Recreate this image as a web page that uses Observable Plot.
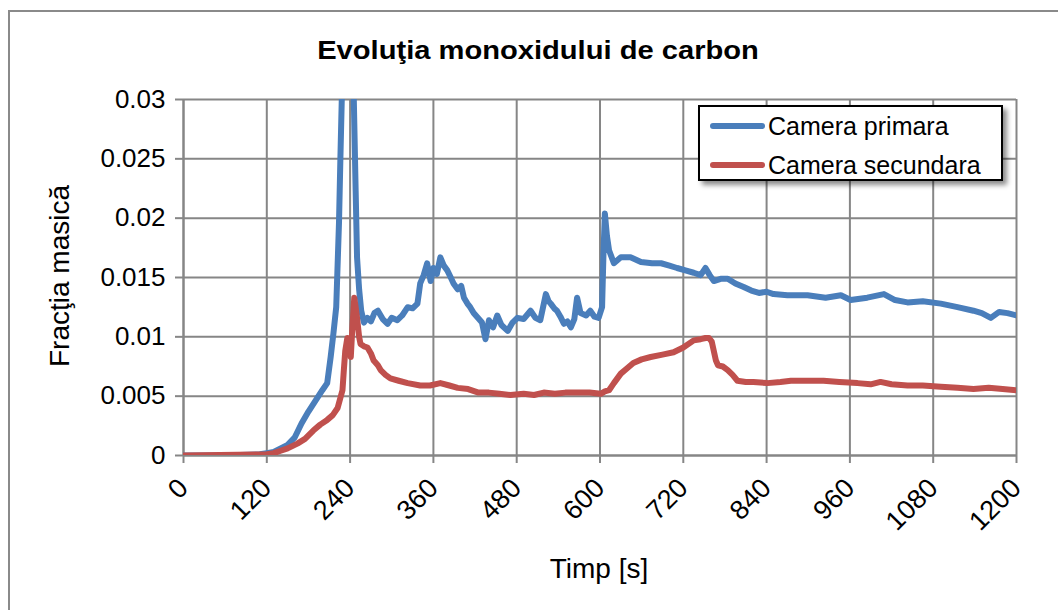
<!DOCTYPE html>
<html>
<head>
<meta charset="utf-8">
<script src="https://cdn.jsdelivr.net/npm/d3@7"></script>
<script src="https://cdn.jsdelivr.net/npm/@observablehq/plot@0.6"></script>
<style>
  html, body { margin: 0; padding: 0; background: #fff; }
  #wrap { position: relative; width: 1058px; height: 610px; overflow: hidden; font-family: "Liberation Sans", Arial, sans-serif; color: #000; }
  #frame { position: absolute; left: 8px; top: 10px; width: 1100px; height: 700px; border-left: 2px solid #8a8a8a; border-top: 2px solid #8a8a8a; }
  #chart { position: absolute; left: 0; top: 0; }
  .lbl { position: absolute; white-space: nowrap; line-height: 1; }
  #title { left: 538px; top: 50px; transform: translate(-50%, -50%) scaleX(1.12); font-weight: bold; font-size: 26px; }
  #xlabel { left: 599px; top: 569px; transform: translate(-50%, -50%); font-size: 28px; }
  #ylabel { left: 60px; top: 276px; transform: translate(-50%, -50%) rotate(-90deg); font-size: 28px; }
  #legend { position: absolute; left: 698px; top: 105px; width: 301px; height: 72px; border: 2px solid #000; background: #fff; box-shadow: 4px 4px 5px rgba(0,0,0,0.45); }
  .item { position: absolute; left: 10px; height: 30px; font-size: 25px; line-height: 30px; white-space: nowrap; }
  .swatch { position: absolute; left: 0; top: 12px; width: 55px; height: 6px; border-radius: 3px; }
  .item span.t { position: absolute; left: 58px; top: 0; }
</style>
</head>
<body>
<div id="wrap">
  <div id="frame"></div>
  <div id="chart"></div>
  <div class="lbl" id="title"></div>
  <div class="lbl" id="xlabel"></div>
  <div class="lbl" id="ylabel"></div>
  <div id="legend"></div>
</div>
<script>
// ---- Data ----
const titleText = "Evoluţia monoxidului de carbon";
const xLabel = "Timp [s]";
const yLabel = "Fracţia masică";
const seriesNames = ["Camera primara", "Camera secundara"];
const seriesColors = ["#4a7ebb", "#c0504d"];

const xTicks = [0, 120, 240, 360, 480, 600, 720, 840, 960, 1080, 1200];
const xTickLabels = ["0", "120", "240", "360", "480", "600", "720", "840", "960", "1080", "1200"];
const yTicks = [0, 0.005, 0.01, 0.015, 0.02, 0.025, 0.03];
const yTickLabels = ["0", "0.005", "0.01", "0.015", "0.02", "0.025", "0.03"];

// Camera primara: [time s, mass fraction]
const primara = [
  [0,0],[60,0],[110,0.0001],[120,0.0002],[130,0.0003],[140,0.0006],[150,0.0009],[160,0.0015],
  [170,0.0027],[180,0.0037],[190,0.0046],[200,0.0055],[207,0.0061],[212,0.0083],[216,0.0103],
  [220,0.0125],[224,0.0196],[226,0.025],[228,0.03],[232,0.042],[236,0.05],[240,0.045],[245,0.031],
  [248,0.0223],[250,0.0167],[253,0.0140],[256,0.0122],[260,0.0112],[265,0.0116],[270,0.0113],
  [275,0.0120],[280,0.0122],[287,0.0115],[294,0.0111],[300,0.0116],[308,0.0114],[315,0.0118],
  [323,0.0125],[330,0.0124],[337,0.0128],[341,0.0145],[346,0.0152],[351,0.0162],[356,0.0147],
  [360,0.0158],[365,0.0153],[370,0.0167],[375,0.0160],[380,0.0156],[385,0.0150],[389,0.0145],
  [395,0.0140],[400,0.0143],[404,0.0133],[409,0.0128],[413,0.0125],[418,0.0120],[424,0.0116],
  [430,0.0112],[435,0.0098],[440,0.0114],[446,0.0108],[452,0.0118],[458,0.0110],[467,0.0105],
  [474,0.0112],[481,0.0116],[490,0.0115],[500,0.0122],[507,0.0116],[514,0.0114],[518,0.0125],
  [522,0.0136],[526,0.0130],[529,0.0128],[534,0.0124],[538,0.0122],[543,0.0117],[548,0.0111],
  [553,0.0113],[558,0.0108],[563,0.0115],[567,0.0133],[572,0.0120],[580,0.0118],[586,0.0122],
  [592,0.0117],[598,0.0116],[603,0.0125],[605,0.0170],[607,0.0204],[610,0.0185],[613,0.0173],
  [620,0.0162],[630,0.0167],[644,0.0167],[659,0.0163],[675,0.0162],[688,0.0162],[700,0.0160],
  [711,0.0158],[723,0.0156],[735,0.0154],[745,0.0152],[752,0.0158],[758,0.0152],[764,0.0147],
  [775,0.0149],[784,0.0149],[795,0.0145],[807,0.0142],[818,0.0139],[829,0.0137],[840,0.0138],
  [850,0.0136],[870,0.0135],[899,0.0135],[925,0.0133],[947,0.0135],[961,0.0131],[985,0.0133],
  [1009,0.0136],[1025,0.0131],[1043,0.0129],[1065,0.0130],[1091,0.0128],[1115,0.0125],
  [1138,0.0122],[1150,0.0120],[1163,0.0116],[1175,0.0121],[1187,0.0120],[1200,0.0118]
];

// Camera secundara: [time s, mass fraction]
const secundara = [
  [0,0],[120,0.0001],[130,0.0002],[140,0.0004],[150,0.0006],[164,0.001],[175,0.0014],[187,0.0021],
  [197,0.0026],[207,0.003],[215,0.0034],[222,0.004],[229,0.0055],[231,0.0072],[233,0.0088],
  [236,0.0099],[239,0.0095],[241,0.0083],[243,0.0105],[246,0.0133],[248,0.0125],[250,0.0116],
  [253,0.0100],[255,0.0094],[260,0.0092],[265,0.0091],[270,0.0086],[274,0.0080],[280,0.0076],
  [284,0.0072],[291,0.0068],[298,0.0065],[310,0.0063],[323,0.0061],[341,0.0059],[355,0.0059],
  [370,0.0061],[383,0.0059],[395,0.0057],[410,0.0056],[425,0.0053],[440,0.0053],[455,0.0052],
  [471,0.0051],[490,0.0052],[505,0.0051],[519,0.0053],[535,0.0052],[550,0.0053],[567,0.0053],
  [585,0.0053],[601,0.0052],[607,0.0054],[613,0.0055],[620,0.0061],[630,0.0069],[640,0.0074],
  [648,0.0078],[660,0.0081],[673,0.0083],[690,0.0085],[706,0.0087],[720,0.0091],[735,0.0097],
  [745,0.0098],[752,0.0099],[757,0.0099],[761,0.0096],[764,0.0088],[767,0.0080],[770,0.0076],
  [777,0.0075],[784,0.0072],[791,0.0068],[798,0.0063],[810,0.0062],[821,0.0062],[841,0.0061],
  [860,0.0062],[875,0.0063],[900,0.0063],[922,0.0063],[945,0.0062],[971,0.0061],[990,0.0060],
  [1004,0.0062],[1020,0.0060],[1043,0.0059],[1065,0.0059],[1091,0.0058],[1115,0.0057],
  [1138,0.0056],[1160,0.0057],[1180,0.0056],[1200,0.0055]
];

// ---- Chart ----
const grid = "#868686";
const fontFamily = "'Liberation Sans', Arial, sans-serif";

const chart = Plot.plot({
  width: 1058,
  height: 610,
  marginLeft: 183,
  marginRight: 42,
  marginTop: 99,
  marginBottom: 155,
  style: { fontFamily, background: "transparent", color: "#000", overflow: "visible" },
  x: { domain: [0, 1200] },
  y: { domain: [0, 0.03] },
  marks: [
    Plot.gridX(xTicks, { stroke: grid, strokeOpacity: 1, strokeWidth: 2 }),
    Plot.gridY(yTicks, { stroke: grid, strokeOpacity: 1, strokeWidth: 2 }),
    Plot.axisY(yTicks, {
      tickFormat: d => yTickLabels[yTicks.indexOf(d)],
      tickSize: 8, tickPadding: 10, fontSize: 26,
      stroke: grid, strokeWidth: 2, fill: "#000", label: null
    }),
    Plot.axisX(xTicks, {
      tickFormat: d => xTickLabels[xTicks.indexOf(d)],
      tickRotate: -45, tickSize: 8, tickPadding: 20, fontSize: 27,
      stroke: grid, strokeWidth: 2, fill: "#000", label: null
    }),
    Plot.ruleX([0], { stroke: grid, strokeWidth: 2 }),
    Plot.ruleY([0], { stroke: grid, strokeWidth: 2 }),
    Plot.line(primara, { x: d => d[0], y: d => d[1], stroke: seriesColors[0], strokeWidth: 6, clip: true }),
    Plot.line(secundara, { x: d => d[0], y: d => d[1], stroke: seriesColors[1], strokeWidth: 6, clip: true })
  ]
});
document.getElementById("chart").appendChild(chart);

document.getElementById("title").textContent = titleText;
document.getElementById("xlabel").textContent = xLabel;
document.getElementById("ylabel").textContent = yLabel;

const legend = document.getElementById("legend");
seriesNames.forEach((name, i) => {
  const item = document.createElement("div");
  item.className = "item";
  item.style.top = (4 + i * 39) + "px";
  const sw = document.createElement("div");
  sw.className = "swatch";
  sw.style.background = seriesColors[i];
  const t = document.createElement("span");
  t.className = "t";
  t.textContent = name;
  item.appendChild(sw);
  item.appendChild(t);
  legend.appendChild(item);
});
</script>
</body>
</html>
